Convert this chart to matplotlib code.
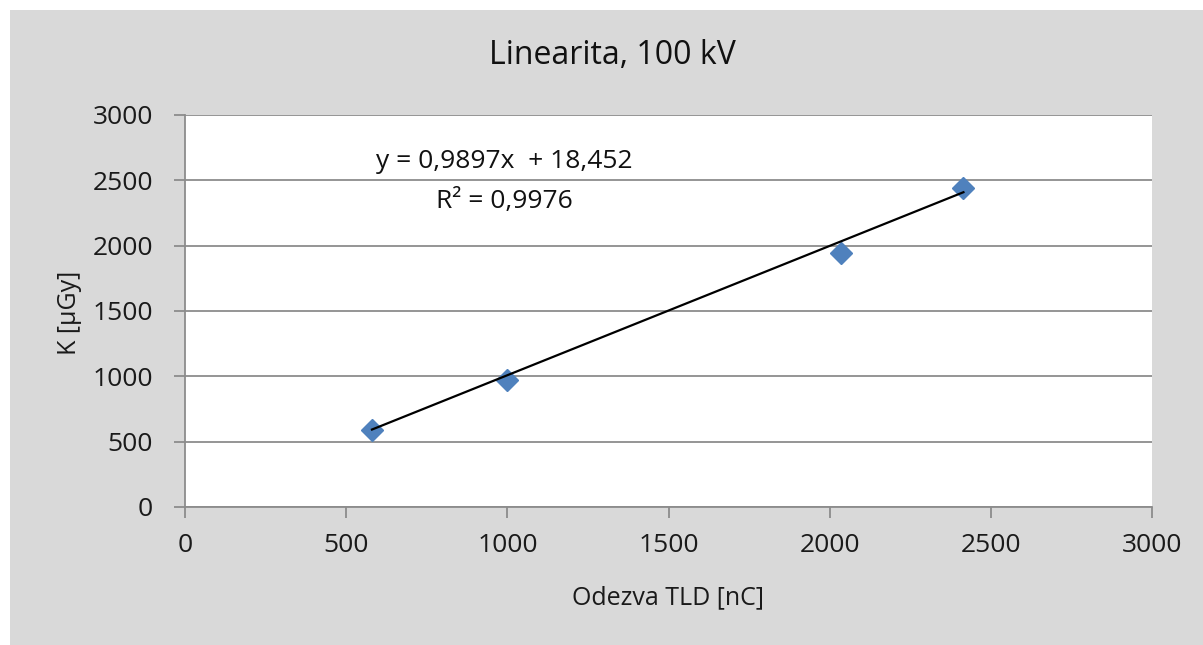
import numpy as np
import matplotlib.pyplot as plt
from matplotlib.patches import Rectangle

# data
odezva = [580, 1000, 2035, 2415]      # Odezva TLD [nC]
kerma = [589, 972, 1943, 2441]        # K [uGy]
slope, intercept = 0.9897, 18.452
r2 = 0.9976

xticks = [0, 500, 1000, 1500, 2000, 2500, 3000]
yticks = [0, 500, 1000, 1500, 2000, 2500, 3000]

plt.rcParams['font.family'] = ['Open Sans', 'DejaVu Sans']

fig = plt.figure(figsize=(12.03, 6.45), dpi=100, facecolor='white')
# gray chart area, offset from top/left edge like the screenshot
fig.patches.append(Rectangle((10 / 1203, 0), 1 - 10 / 1203, 1 - 10 / 645,
                             transform=fig.transFigure, facecolor='#d9d9d9',
                             edgecolor='none', zorder=-5))

ax = fig.add_axes([0.1538, 0.2140, 0.8038, 0.6078])
ax.set_facecolor('white')

grid_c = '#8c8c8c'
ax.set_xlim(0, 3000)
ax.set_ylim(0, 3000)
ax.set_xticks(xticks)
ax.set_yticks(yticks)
ax.yaxis.grid(True, color=grid_c, lw=1.3)
ax.set_axisbelow(True)
for s in ['top', 'right']:
    ax.spines[s].set_visible(False)
for s in ['left', 'bottom']:
    ax.spines[s].set_color(grid_c)
    ax.spines[s].set_linewidth(1.3)
ax.tick_params(axis='both', colors=grid_c, length=8, width=1.3,
               labelcolor='#1a1a1a', labelsize=19)
ax.tick_params(axis='y', pad=15)
ax.tick_params(axis='x', pad=11)

# trendline across data range
xs = np.array([min(odezva), max(odezva)])
ax.plot(xs, slope * xs + intercept, color='black', lw=1.6, zorder=3)
ax.plot(odezva, kerma, linestyle='none', marker='D', ms=11,
        color='#4f81bd', zorder=2)

eq = f'y = {slope}x  + {intercept}'.replace('.', ',')
fig.text(504 / 1203, 1 - 162 / 645, eq,
         ha='center', va='center', fontsize=19, color='#111111')
fig.text(504 / 1203, 1 - 201 / 645, f'R² = {r2}'.replace('.', ','),
         ha='center', va='center', fontsize=19, color='#111111')

fig.text(612 / 1203, 1 - 55 / 645, 'Linearita, 100 kV', ha='center',
         va='center', fontsize=23, color='#111111')
fig.text(668 / 1203, 1 - 598 / 645, 'Odezva TLD [nC]', ha='center',
         va='center', fontsize=18, color='#1a1a1a')
fig.text(70 / 1203, 1 - 313 / 645, 'K [μGy]', ha='center', va='center',
         rotation=90, fontsize=18, color='#1a1a1a')

fig.savefig('out.png', dpi=100, facecolor=fig.get_facecolor())
